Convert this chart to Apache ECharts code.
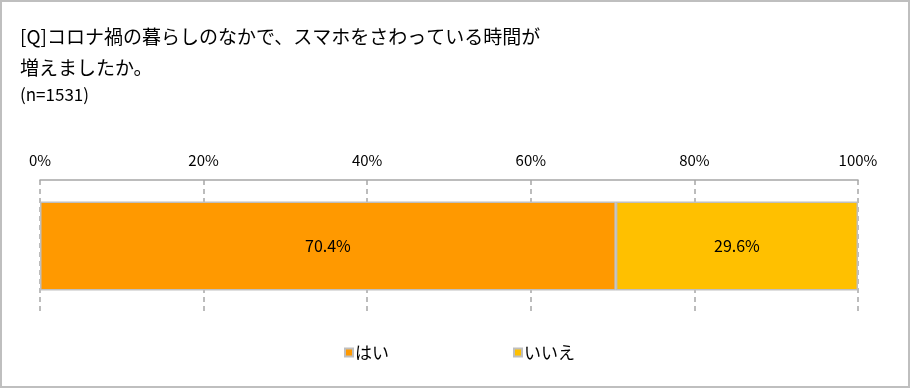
<!DOCTYPE html>
<html><head><meta charset="utf-8">
<script src="https://cdn.jsdelivr.net/npm/echarts@6/dist/echarts.min.js"></script>
<style>
html,body{margin:0;padding:0;background:#fff;}
#c{width:910px;height:388px;box-sizing:border-box;border:2px solid #bfbfbf;}
</style></head>
<body><div id="c"></div>
<script>
const categories = ['Q'];
const seriesNames = ['はい', 'いいえ'];
const yesValues = [70.4];
const noValues = [29.6];
const xTicks = [0, 20, 40, 60, 80, 100];
const titleLines = ['[Q]コロナ禍の暮らしのなかで、スマホをさわっている時間が', '増えましたか。'];
const sampleText = '(n=1531)';

const FONT = '"Noto Sans CJK JP", "Noto Sans", sans-serif';
const chart = echarts.init(document.getElementById('c'), null, {renderer: 'canvas'});
chart.setOption({
  animation: false,
  title: {
    text: titleLines.join('\n'),
    subtext: sampleText,
    left: 13, top: 14,
    itemGap: 0,
    textStyle: {fontFamily: FONT, fontSize: 19, fontWeight: 'normal', color: '#000', lineHeight: 31},
    subtextStyle: {fontFamily: FONT, fontSize: 17, color: '#000', lineHeight: 23}
  },
  legend: {
    data: seriesNames,
    left: 337, top: 337,
    icon: 'rect', itemWidth: 8, itemHeight: 8, itemGap: 124,
    textStyle: {fontFamily: FONT, fontSize: 17, color: '#000', padding: [0, 0, 0, -3]},
    itemStyle: {borderColor: '#bfbfbf', borderWidth: 2}
  },
  grid: {left: 38, right: 50, top: 178, bottom: 74, containLabel: false},
  xAxis: {
    type: 'value', position: 'top', min: xTicks[0], max: xTicks[xTicks.length - 1], interval: 20,
    axisLine: {show: true, lineStyle: {color: '#a6a6a6', width: 1.5}},
    axisTick: {show: false},
    axisLabel: {formatter: '{value}%', fontFamily: FONT, fontSize: 15, color: '#000', margin: 12},
    splitLine: {show: true, lineStyle: {color: '#a6a6a6', width: 1.5, type: [5, 4]}}
  },
  yAxis: {
    type: 'category', data: categories, inverse: true,
    axisLine: {show: false}, axisTick: {show: false}, axisLabel: {show: false}
  },
  series: [
    {name: seriesNames[0], type: 'bar', stack: 'a', data: yesValues, barWidth: 89,
     itemStyle: {color: '#ff9900', borderColor: '#bfbfbf', borderWidth: 1.5},
     label: {show: true, position: 'inside', formatter: p => p.value.toFixed(1) + '%', fontFamily: FONT, fontSize: 16, color: '#000'}},
    {name: seriesNames[1], type: 'bar', stack: 'a', data: noValues, barWidth: 89,
     itemStyle: {color: '#ffc000', borderColor: '#bfbfbf', borderWidth: 1.5},
     label: {show: true, position: 'inside', formatter: p => p.value.toFixed(1) + '%', fontFamily: FONT, fontSize: 16, color: '#000'}}
  ]
});
</script></body></html>
